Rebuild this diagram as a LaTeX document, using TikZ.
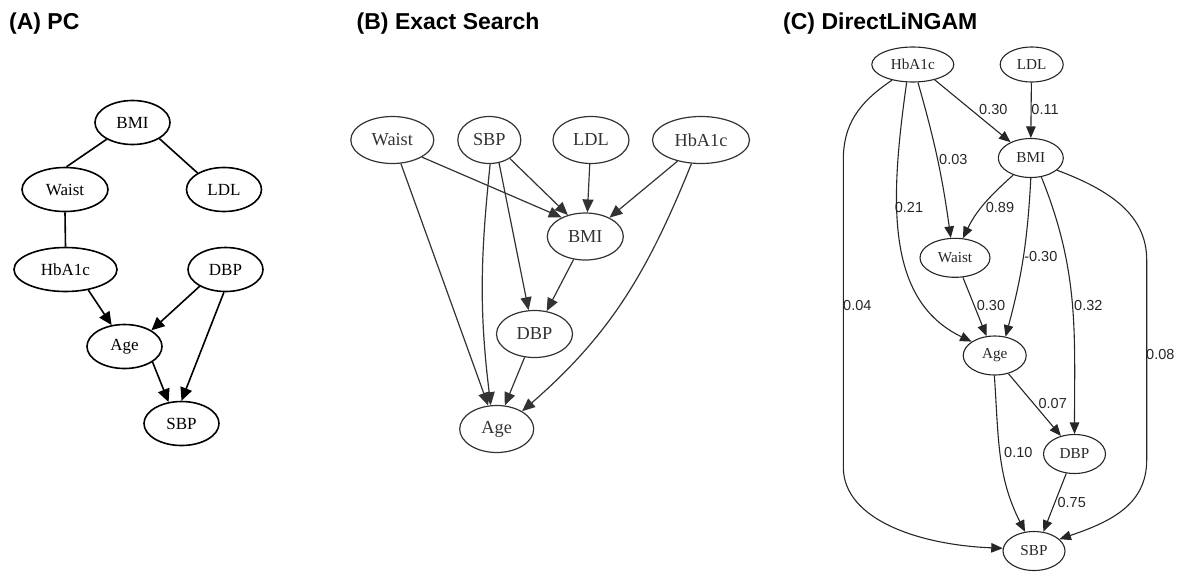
\documentclass[tikz,border=0pt]{standalone}
\usepackage{fontspec}
\setmainfont{Liberation Serif}
\newfontfamily\headfont{Liberation Sans}
\newfontfamily\weightfont{Liberation Sans}
\usetikzlibrary{shapes.geometric,arrows.meta}
\definecolor{graphB}{HTML}{333333}
\definecolor{graphC}{HTML}{262626}

\begin{document}
\begin{tikzpicture}[x=1pt,y=1pt,
  panel/.style={anchor=base west, inner sep=0pt, font={\headfont\bfseries\fontsize{23}{26}\selectfont}},
  gA/.style={ellipse, draw=black, line width=1.6pt, inner sep=0pt, minimum height=44pt,
             font=\fontsize{17}{19}\selectfont},
  gB/.style={ellipse, draw=graphB, line width=1.2pt, inner sep=0pt, minimum height=47pt,
             text=graphB, font=\fontsize{18.3}{20}\selectfont},
  gC/.style={ellipse, draw=graphC, line width=1.1pt, inner sep=0pt, minimum height=39pt,
             text=graphC, font=\fontsize{15.2}{17}\selectfont},
  eA/.style={draw=black, line width=1.6pt},
  eB/.style={draw=graphB, line width=1.2pt, -{Triangle[length=13pt,width=11pt]}},
  eC/.style={draw=graphC, line width=1.1pt, -{Triangle[length=11.5pt,width=9.5pt]}},
  tipA/.style={-{Triangle[length=13pt,width=12pt]}},
  wlab/.style={inner sep=0pt, text=graphC, font={\weightfont\fontsize{14.5}{16}\selectfont}}
]
\useasboundingbox (0,0) rectangle (1182,-571);

% ---------- panel titles ----------
\node[panel] (titleA) at (9,-29.5) {(A) PC};
\node[panel] (titleB) at (356.5,-29.5) {(B) Exact Search};
\node[panel] (titleC) at (783,-29.5) {(C) DirectLiNGAM};

% ---------- (A) PC ----------
\node[gA, minimum width=75pt]  (aBMI)   at (132.5,-122.5) {BMI};
\node[gA, minimum width=86pt]  (aWaist) at (65,-189.5)    {Waist};
\node[gA, minimum width=75pt]  (aLDL)   at (224,-189.5)   {LDL};
\node[gA, minimum width=103pt] (aHb)    at (65.5,-269.5)  {HbA1c};
\node[gA, minimum width=75pt]  (aDBP)   at (225.5,-269.5) {DBP};
\node[gA, minimum width=75pt]  (aAge)   at (124.5,-346.5) {Age};
\node[gA, minimum width=75pt]  (aSBP)   at (181.5,-423.5) {SBP};

\draw[eA] (aBMI.213) -- (aWaist.86);
\draw[eA] (aBMI.-31) -- (aLDL.148);
\draw[eA] (aWaist.-90) -- (aHb.90);
\draw[eA,tipA] (aHb.-42) -- (aAge.121);
\draw[eA,tipA] (aDBP.213) -- (aAge.31);
\draw[eA,tipA] (aDBP.-94) -- (aSBP.90);
\draw[eA,tipA] (aAge.-29) -- (aSBP.121);

% ---------- (B) Exact Search ----------
\node[gB, minimum width=83pt] (bWaist) at (392.3,-140) {Waist};
\node[gB, minimum width=63pt] (bSBP)   at (489.3,-140) {SBP};
\node[gB, minimum width=76pt] (bLDL)   at (591,-140)   {LDL};
\node[gB, minimum width=97pt] (bHb)    at (701,-140)   {HbA1c};
\node[gB, minimum width=76pt] (bBMI)   at (585.3,-236.5) {BMI};
\node[gB, minimum width=76pt] (bDBP)   at (534.5,-334) {DBP};
\node[gB, minimum width=74pt] (bAge)   at (496.7,-429) {Age};

\draw[eB] (bWaist.-30.5) -- (bBMI.141);
\draw[eB] (bWaist.-70) -- (bAge.110);
\draw[eB] (bSBP.-88) to[out=-96,in=97] (bAge.104);
\draw[eB] (bSBP.-42) -- (bBMI.129);
\draw[eB] (bSBP.-67) -- (bDBP.104);
\draw[eB] (bLDL.-93) -- (bBMI.85);
\draw[eB] (bHb.222) -- (bBMI.38);
\draw[eB] (bHb.-112) to[out=-112,in=41] (bAge.35);
\draw[eB] (bBMI.-117) -- (bDBP.62);
\draw[eB] (bDBP.-113) -- (bAge.71);

% ---------- (C) DirectLiNGAM ----------
\node[gC, minimum width=82pt, minimum height=35pt] (cHb)  at (912.8,-64.5)  {HbA1c};
\node[gC, minimum width=63pt, minimum height=35pt] (cLDL) at (1031.7,-64.5) {LDL};
\node[gC, minimum width=65pt] (cBMI)   at (1030.8,-158) {BMI};
\node[gC, minimum width=70pt] (cWaist) at (955,-257.8)  {Waist};
\node[gC, minimum width=63pt] (cAge)   at (994.7,-355.5) {Age};
\node[gC, minimum width=62pt] (cDBP)   at (1074.5,-454) {DBP};
\node[gC, minimum width=62pt] (cSBP)   at (1034,-551)   {SBP};

\draw[eC] (cHb.217) .. controls (858,-103) and (843.3,-125) .. (843.3,-160)
          -- (843.3,-467) .. controls (843.3,-520) and (920,-545) .. (cSBP.175);
\draw[eC] (cHb.-109) .. controls (890,-200) and (885,-300) .. (cAge.149);
\draw[eC] (cHb.-74) to[bend left=4] (cWaist.102);
\draw[eC] (cHb.-35) -- (cBMI.142);
\draw[eC] (cLDL.-91) -- (cBMI.90);
\draw[eC] (cBMI.224) to[out=-138,in=64] (cWaist.68);
\draw[eC] (cBMI.-90) to[out=-93,in=75] (cAge.60);
\draw[eC] (cBMI.-61) to[out=-68,in=90] (cDBP.90);
\draw[eC] (cBMI.-25) .. controls (1110,-190) and (1146.7,-215) .. (1146.7,-260)
          -- (1146.7,-460) .. controls (1146.7,-505) and (1110,-522) .. (cSBP.25);
\draw[eC] (cWaist.-68) -- (cAge.113);
\draw[eC] (cAge.-53) -- (cDBP.127);
\draw[eC] (cAge.-91) to[out=-86,in=117] (cSBP.115);
\draw[eC] (cDBP.-113) -- (cSBP.64);

% edge weights
\node[wlab] (wHbBMI)    at (993.3,-110)   {0.30};
\node[wlab] (wLDLBMI)   at (1045,-110)    {0.11};
\node[wlab] (wHbWaist)  at (953.3,-159.3) {0.03};
\node[wlab] (wHbAge)    at (909,-207.7)   {0.21};
\node[wlab] (wBMIWaist) at (1000,-207.7)  {0.89};
\node[wlab] (wBMIAge)   at (1040.8,-256.7) {-0.30};
\node[wlab] (wHbSBP)    at (857.3,-306)   {0.04};
\node[wlab] (wWaistAge) at (991,-306)     {0.30};
\node[wlab] (wBMIDBP)   at (1088.3,-306)  {0.32};
\node[wlab] (wBMISBP)   at (1160.3,-354)  {0.08};
\node[wlab] (wAgeDBP)   at (1052.7,-403.3) {0.07};
\node[wlab] (wAgeSBP)   at (1018.3,-452.7) {0.10};
\node[wlab] (wDBPSBP)   at (1071.7,-502.3) {0.75};
\end{tikzpicture}
\end{document}
